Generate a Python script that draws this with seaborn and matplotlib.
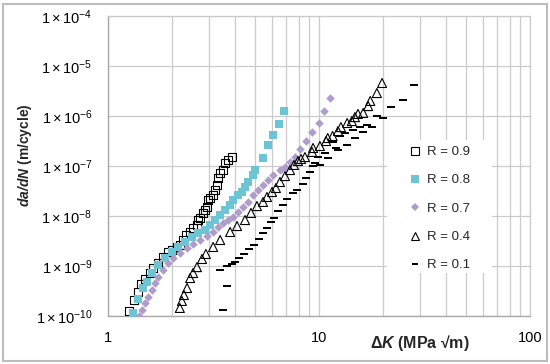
import numpy as np
import pandas as pd
import matplotlib
matplotlib.use("Agg")
import matplotlib.pyplot as plt
from matplotlib.patches import Rectangle
from matplotlib.lines import Line2D
from matplotlib.ticker import FixedLocator, FixedFormatter, LogLocator, NullFormatter
import seaborn as sns

# ---------------- data ----------------
R09_K = [1.26, 1.33, 1.39, 1.43, 1.50, 1.58, 1.63, 1.73, 1.82, 1.92, 2.01, 2.12, 2.19, 2.27, 2.34,
         2.45, 2.53, 2.64, 2.67, 2.73, 2.82, 2.88, 2.95, 2.98, 3.04, 3.15, 3.21, 3.28, 3.32, 3.40,
         3.51, 3.59, 3.70, 3.87]
R09_da = [1.26e-10, 2.09e-10, 3.02e-10, 4.37e-10, 5.5e-10, 7.24e-10, 9.1e-10, 1.15e-9, 1.51e-9, 1.91e-9,
          2.09e-9, 2.4e-9, 2.63e-9, 3.31e-9, 4.17e-9, 4.79e-9, 5.75e-9, 6.6e-9, 8.3e-9, 9.1e-9,
          1.15e-8, 1.32e-8, 1.51e-8, 2.09e-8, 2.29e-8, 2.63e-8, 3.31e-8, 4.17e-8, 5.75e-8, 7.24e-8,
          8.3e-8, 1.15e-7, 1.32e-7, 1.51e-7]

R08_K = [1.31, 1.39, 1.47, 1.53, 1.62, 1.73, 1.86, 2.01, 2.15, 2.32, 2.50, 2.67, 2.88, 3.04, 3.21,
         3.40, 3.59, 3.79, 3.91, 4.13, 4.32, 4.46, 4.61, 4.87, 4.97, 5.43, 5.73, 6.05, 6.46, 6.82]
R08_da = [1.15e-10, 2.19e-10, 3.63e-10, 4.79e-10, 7.24e-10, 1.05e-9, 1.45e-9, 1.91e-9, 2.4e-9, 3.02e-9,
          3.8e-9, 4.57e-9, 5.25e-9, 6.6e-9, 8.3e-9, 1.05e-8, 1.32e-8, 1.66e-8, 2.09e-8, 2.63e-8,
          3.02e-8, 3.8e-8, 4.79e-8, 6.6e-8, 8.3e-8, 1.45e-7, 2.63e-7, 4.17e-7, 6.9e-7, 1.26e-6]

R07_K = [1.40, 1.45, 1.50, 1.55, 1.62, 1.67, 1.73, 1.82, 1.92, 2.03, 2.19, 2.37, 2.53, 2.73, 2.95,
         3.15, 3.32, 3.51, 3.70, 3.91, 4.13, 4.36, 4.61, 4.87, 5.14, 5.43, 5.73, 6.05, 6.53, 6.90,
         7.29, 7.69, 8.13, 8.68, 9.27, 10.0, 10.6, 11.3]
R07_da = [1.0e-10, 1.32e-10, 1.82e-10, 2.4e-10, 3.31e-10, 4.57e-10, 6.0e-10, 8.3e-10, 1.15e-9, 1.45e-9,
          1.82e-9, 2.29e-9, 2.75e-9, 3.31e-9, 3.98e-9, 4.79e-9, 6.0e-9, 7.24e-9, 8.3e-9, 9.5e-9,
          1.2e-8, 1.51e-8, 1.91e-8, 2.63e-8, 3.31e-8, 4.17e-8, 5.25e-8, 6.6e-8, 8.3e-8, 9.5e-8,
          1.2e-7, 1.51e-7, 2.2e-7, 3.16e-7, 4.79e-7, 7.24e-7, 1.26e-6, 2.29e-6]

R04_K = [2.19, 2.24, 2.29, 2.37, 2.45, 2.53, 2.64, 2.79, 2.91, 3.15, 3.40, 3.79, 4.09, 4.46, 4.76,
         5.08, 5.43, 5.67, 5.99, 6.25, 6.53, 6.90, 7.29, 7.61, 7.95, 8.22, 8.58, 9.27, 9.37, 10.1,
         10.8, 11.0, 11.6, 12.3, 12.7, 13.6, 14.3, 14.8, 15.3, 16.2, 17.1, 17.5, 18.8, 19.9]
R04_da = [1.45e-10, 2.0e-10, 2.63e-10, 3.63e-10, 5.75e-10, 7.24e-10, 9.5e-10, 1.38e-9, 1.74e-9, 2.4e-9,
          3.31e-9, 4.79e-9, 6.3e-9, 8.3e-9, 1.15e-8, 1.58e-8, 1.91e-8, 2.4e-8, 3.02e-8, 3.63e-8,
          4.79e-8, 6.3e-8, 8.3e-8, 1.05e-7, 1.26e-7, 1.38e-7, 1.51e-7, 1.91e-7, 2.29e-7, 2.51e-7,
          3.16e-7, 3.63e-7, 3.98e-7, 5.0e-7, 6.0e-7, 7.24e-7, 7.9e-7, 9.5e-7, 1.1e-6, 1.15e-6,
          1.58e-6, 2.0e-6, 2.88e-6, 4.57e-6]

R01_K = [3.40, 3.51, 3.66, 3.66, 3.87, 4.00, 4.18, 4.41, 4.66, 4.92, 5.19, 5.43, 5.67, 5.92, 6.12,
         6.39, 6.75, 7.05, 7.53, 7.87, 8.40, 8.68, 9.06, 9.37, 9.57, 9.89, 10.1, 10.7, 11.0, 11.6,
         12.0, 12.3, 12.6, 13.3, 13.6, 14.5, 14.8, 15.6, 16.2, 16.9, 17.8, 18.8, 20.1, 21.9, 25.0,
         28.2]
R01_da = [8.3e-10, 1.32e-10, 4.0e-10, 1.0e-9, 1.1e-9, 1.2e-9, 1.45e-9, 1.74e-9, 2.19e-9, 2.63e-9,
          3.47e-9, 4.57e-9, 5.75e-9, 7.6e-9, 9.1e-9, 1.26e-8, 1.66e-8, 2.19e-8, 2.88e-8, 3.31e-8,
          4.37e-8, 5.75e-8, 7.6e-8, 1.0e-7, 1.15e-7, 1.51e-7, 1.05e-7, 1.82e-7, 1.45e-7, 3.02e-7,
          2.29e-7, 2.09e-7, 3.98e-7, 4.57e-7, 2.63e-7, 5.25e-7, 3.63e-7, 6.0e-7, 4.79e-7, 6.6e-7,
          6.0e-7, 1.0e-6, 9.1e-7, 1.51e-6, 2.09e-6, 4.17e-6]

series_labels = ["R = 0.9", "R = 0.8", "R = 0.7", "R = 0.4", "R = 0.1"]
y_tick_values = [1e-10, 1e-9, 1e-8, 1e-7, 1e-6, 1e-5, 1e-4]
y_tick_labels = [r"$1 \times 10^{-10}$", r"$1 \times 10^{-9}$", r"$1 \times 10^{-8}$",
                 r"$1 \times 10^{-7}$", r"$1 \times 10^{-6}$", r"$1 \times 10^{-5}$",
                 r"$1 \times 10^{-4}$"]
x_tick_values = [1, 10, 100]
x_tick_labels = ["1", "10", "100"]

frames = []
for lab, k, d in zip(series_labels,
                     [R09_K, R08_K, R07_K, R04_K, R01_K],
                     [R09_da, R08_da, R07_da, R04_da, R01_da]):
    frames.append(pd.DataFrame({"dK": k, "dadN": d, "R": lab}))
df = pd.concat(frames, ignore_index=True)

# ---------------- style ----------------
sns.set_style("white")
plt.rcParams["font.family"] = ["Liberation Sans", "DejaVu Sans"]
plt.rcParams["mathtext.fontset"] = "custom"
plt.rcParams["mathtext.rm"] = "Liberation Sans"
plt.rcParams["mathtext.it"] = "Liberation Sans:italic"
plt.rcParams["mathtext.bf"] = "Liberation Sans:bold"
try:
    plt.rcParams["mathtext.bfit"] = "Liberation Sans:italic:bold"
except KeyError:
    pass

fig = plt.figure(figsize=(5.5, 3.64), dpi=100)
ax = fig.add_axes([108 / 550, 48 / 364, 422 / 550, 300 / 364])

grid_c = "#cbcbcb"
cyan = "#6cc4d5"
purple = "#ae9dcb"
dash_marker = [(-1, -0.4), (1, -0.4), (1, 0.4), (-1, 0.4), (-1, -0.4)]

specs = {
    "R = 0.9": dict(marker="s", s=36, facecolor="none", edgecolor="black", linewidth=0.8),
    "R = 0.8": dict(marker="s", s=38, color=cyan, edgecolor=cyan, linewidth=0),
    "R = 0.7": dict(marker="D", s=19, color=purple, edgecolor=purple, linewidth=0),
    "R = 0.4": dict(marker="^", s=42, facecolor="none", edgecolor="black", linewidth=0.8),
    "R = 0.1": dict(marker=dash_marker, s=26, color="black", edgecolor="black", linewidth=0),
}

for lab in series_labels:
    sub = df[df["R"] == lab]
    sns.scatterplot(data=sub, x="dK", y="dadN", ax=ax, legend=False, zorder=3, **specs[lab])

ax.set_xscale("log")
ax.set_yscale("log")
ax.set_xlim(1, 100)
ax.set_ylim(1e-10, 1e-4)

ax.xaxis.set_major_locator(FixedLocator(x_tick_values))
ax.xaxis.set_major_formatter(FixedFormatter(x_tick_labels))
ax.xaxis.set_minor_locator(LogLocator(base=10, subs=np.arange(2, 10)))
ax.xaxis.set_minor_formatter(NullFormatter())
ax.yaxis.set_major_locator(FixedLocator(y_tick_values))
ax.yaxis.set_major_formatter(FixedFormatter(y_tick_labels))
ax.yaxis.set_minor_locator(FixedLocator([]))

ax.grid(True, which="major", axis="both", color=grid_c, linewidth=0.9)
ax.grid(True, which="minor", axis="x", color=grid_c, linewidth=0.9)
ax.set_axisbelow(True)
ax.tick_params(axis="both", which="both", length=0, labelsize=10.5, colors="black")
ax.tick_params(axis="y", pad=11)
ax.tick_params(axis="x", pad=11)
for side in ["top", "right"]:
    ax.spines[side].set_color(grid_c)
    ax.spines[side].set_linewidth(0.9)
for side in ["left", "bottom"]:
    ax.spines[side].set_color("#a9a9a9")
    ax.spines[side].set_linewidth(1.0)

ax.set_xlabel("")
ax.set_ylabel("")
fig.text(420 / 550, 1 - 343 / 364, r"Δ$\mathbfit{K}$ (MPa √m)", ha="center", va="center",
         fontsize=11.5, fontweight="bold")
fig.text(25 / 550, 1 - 155 / 364, r"$\mathbfit{da/dN}$ (m/cycle)", ha="center", va="center",
         fontsize=10, fontweight="bold", rotation=90)

# white box behind the legend (masks the grid like the reference)
ax.add_patch(Rectangle((0.661, 0.143), 0.249, 0.443, transform=ax.transAxes,
                       facecolor="white", edgecolor="none", zorder=1))

handles = [
    Line2D([], [], linestyle="none", marker="s", markersize=5.5, markerfacecolor="none",
           markeredgecolor="black", markeredgewidth=0.8),
    Line2D([], [], linestyle="none", marker="s", markersize=5.5, markerfacecolor=cyan,
           markeredgecolor=cyan, markeredgewidth=0),
    Line2D([], [], linestyle="none", marker="D", markersize=4, markerfacecolor=purple,
           markeredgecolor=purple, markeredgewidth=0),
    Line2D([], [], linestyle="none", marker="^", markersize=5.5, markerfacecolor="none",
           markeredgecolor="black", markeredgewidth=0.8),
    Line2D([], [], linestyle="none", marker=dash_marker, markersize=5, markerfacecolor="black",
           markeredgecolor="black", markeredgewidth=0),
]
leg = ax.legend(handles, series_labels, loc="upper left", bbox_to_anchor=(0.716, 0.567),
                borderaxespad=0, borderpad=0, frameon=False, fontsize=9.5, labelspacing=1.22,
                handlelength=0.8, handletextpad=0.5)
leg.set_zorder(4)

fig.patches.append(Rectangle((3 / 550, 3 / 364), 544 / 550, 357 / 364, transform=fig.transFigure,
                             fill=False, edgecolor="#bdbdbd", linewidth=1.5))

fig.savefig("out.png", dpi=100)
